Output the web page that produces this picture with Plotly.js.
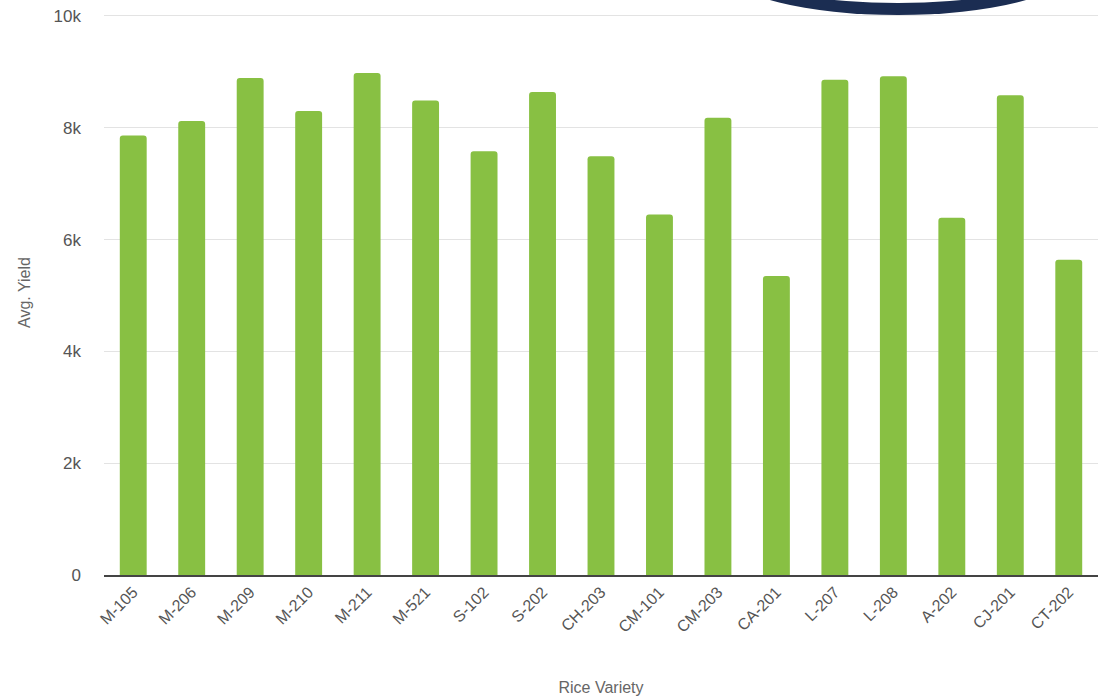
<!DOCTYPE html>
<html>
<head>
<meta charset="utf-8">
<script src="https://cdn.plot.ly/plotly-3.0.1.min.js"></script>
<style>html,body{margin:0;padding:0;background:#fff;}#chart{width:1102px;height:700px;}</style>
</head>
<body>
<div id="chart"></div>
<script>
var varieties = ["M-105","M-206","M-209","M-210","M-211","M-521","S-102","S-202","CH-203","CM-101","CM-203","CA-201","L-207","L-208","A-202","CJ-201","CT-202"];
var avgYield = [7860, 8120, 8890, 8300, 8980, 8490, 7580, 8640, 7490, 6450, 8180, 5350, 8860, 8920, 6390, 8580, 5640];
var yTickVals = [0, 2000, 4000, 6000, 8000, 10000];
var yTickText = ["0", "2k", "4k", "6k", "8k", "10k"];

var trace = {
  type: "bar",
  x: varieties,
  y: avgYield,
  marker: {color: "#88c043", cornerradius: 3},
  hoverinfo: "x+y"
};

// plot area: x 104..1098 px, y 10..575 px (565 px tall)
function py(p) { return (575 - p) / 565; }
function px(p) { return (p - 104) / 994; }

var layout = {
  width: 1102,
  height: 700,
  margin: {l: 104, r: 4, t: 10, b: 125},
  paper_bgcolor: "#ffffff",
  plot_bgcolor: "#ffffff",
  bargap: 0.54,
  showlegend: false,
  font: {family: "Liberation Sans, Arial, sans-serif", color: "#555555", size: 16},
  xaxis: {
    type: "category",
    tickangle: -45,
    tickfont: {size: 16, color: "#555555"},
    showline: true,
    linecolor: "#444444",
    linewidth: 1.5,
    showgrid: false,
    ticks: "",
    ticklabelstandoff: 0,
    automargin: false,
    title: {text: "Rice Variety", font: {size: 16, color: "#666666"}, standoff: 47}
  },
  yaxis: {
    range: [0, 10107],
    tickvals: yTickVals,
    ticktext: yTickText,
    tickfont: {size: 17, color: "#555555"},
    showgrid: true,
    gridcolor: "#e3e3e3",
    gridwidth: 1,
    zeroline: false,
    showline: false,
    ticks: "",
    ticklabelstandoff: 22,
    automargin: false,
    title: {text: "Avg. Yield", font: {size: 16, color: "#666666"}, standoff: 18}
  },
  shapes: [
    {type: "circle", xref: "paper", yref: "paper", layer: "above",
     x0: px(730), x1: px(1066), y0: py(15), y1: py(-70),
     fillcolor: "#1b2d52", line: {width: 0}},
    {type: "circle", xref: "paper", yref: "paper", layer: "above",
     x0: px(763), x1: px(1033), y0: py(3), y1: py(-48),
     fillcolor: "#ffffff", line: {width: 0}}
  ]
};

Plotly.newPlot("chart", [trace], layout, {displayModeBar: false, staticPlot: true});
</script>
</body>
</html>
